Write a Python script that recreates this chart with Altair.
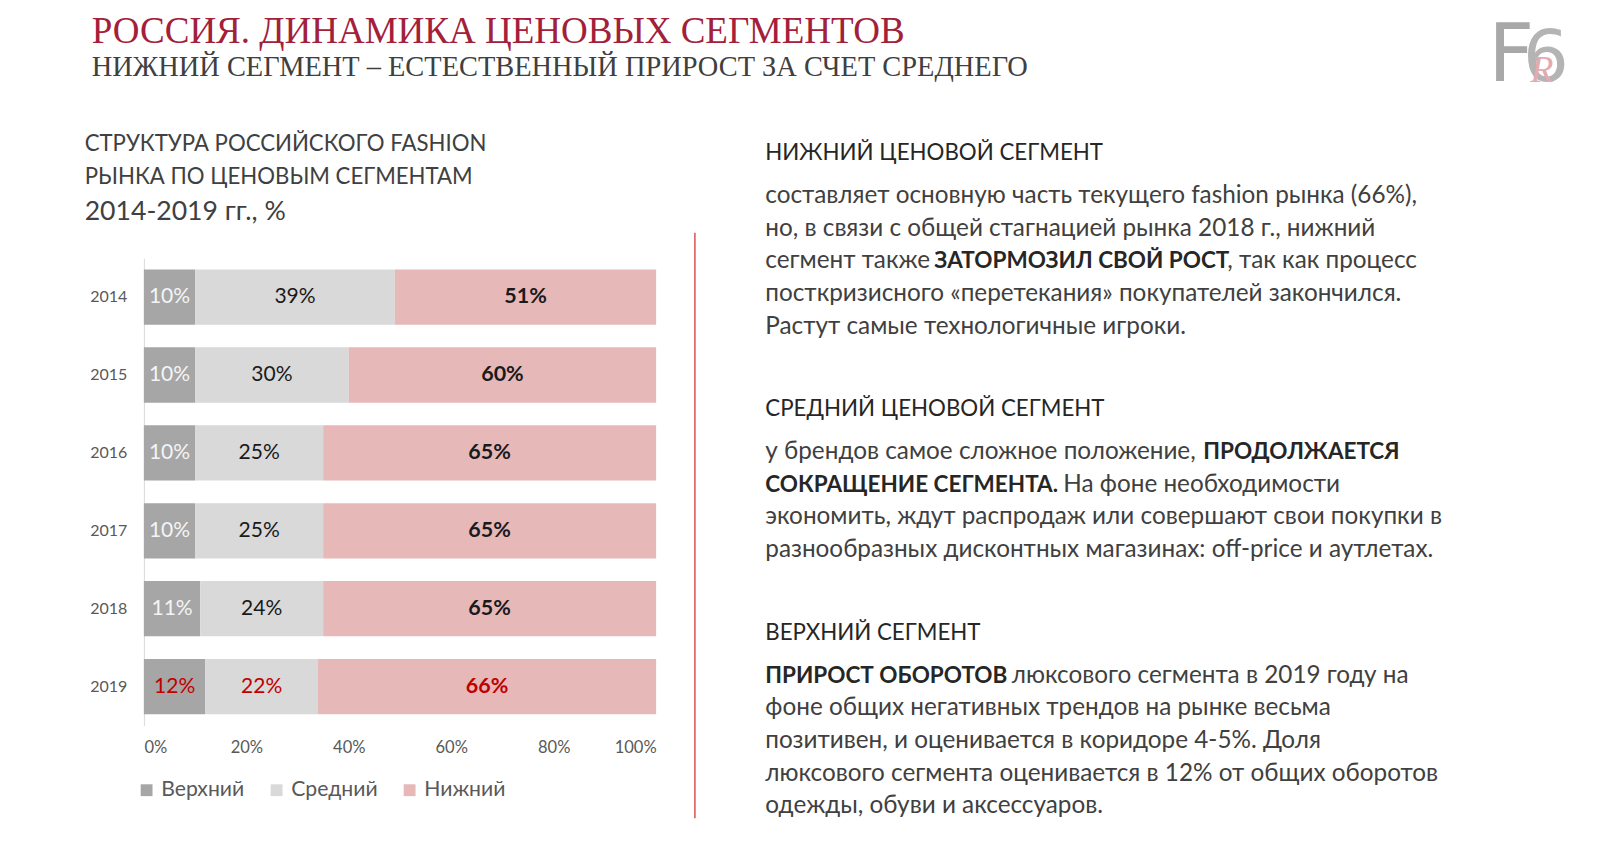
import altair as alt
import pandas as pd

# ---------------- data ----------------
years = ["2014", "2015", "2016", "2017", "2018", "2019"]
segments = ["Верхний", "Средний", "Нижний"]
upper = [10, 10, 10, 10, 11, 12]
middle = [39, 30, 25, 25, 24, 22]
lower = [51, 60, 65, 65, 65, 66]
x_ticks = [0, 20, 40, 60, 80, 100]
seg_colors = ["#a6a6a6", "#d9d9d9", "#e6b8b8"]

main_title = "РОССИЯ. ДИНАМИКА ЦЕНОВЫХ СЕГМЕНТОВ"
main_subtitle = "НИЖНИЙ СЕГМЕНТ – ЕСТЕСТВЕННЫЙ ПРИРОСТ ЗА СЧЕТ СРЕДНЕГО"
chart_title = ["СТРУКТУРА РОССИЙСКОГО FASHION", "РЫНКА ПО ЦЕНОВЫМ СЕГМЕНТАМ"]
chart_subtitle = "2014-2019 гг., %"

# blocks: heading, lines; each line is a list of (text, bold)
blocks = [
    ("НИЖНИЙ ЦЕНОВОЙ СЕГМЕНТ", [
        [("составляет основную часть текущего fashion рынка (66%),", False)],
        [("но, в связи с общей стагнацией рынка 2018 г., нижний", False)],
        [("сегмент также", False), ("ЗАТОРМОЗИЛ СВОЙ РОСТ", True), (", так как процесс", False)],
        [("посткризисного «перетекания» покупателей закончился.", False)],
        [("Растут самые технологичные игроки.", False)],
    ]),
    ("СРЕДНИЙ ЦЕНОВОЙ СЕГМЕНТ", [
        [("у брендов самое сложное положение,", False), ("ПРОДОЛЖАЕТСЯ", True)],
        [("СОКРАЩЕНИЕ СЕГМЕНТА.", True), ("На фоне необходимости", False)],
        [("экономить, ждут распродаж или совершают свои покупки в", False)],
        [("разнообразных дисконтных магазинах: off-price и аутлетах.", False)],
    ]),
    ("ВЕРХНИЙ СЕГМЕНТ", [
        [("ПРИРОСТ ОБОРОТОВ", True), ("люксового сегмента в 2019 году на", False)],
        [("фоне общих негативных трендов на рынке весьма", False)],
        [("позитивен, и оценивается в коридоре 4-5%. Доля", False)],
        [("люксового сегмента оценивается в 12% от общих оборотов", False)],
        [("одежды, обуви и аксессуаров.", False)],
    ]),
]

rows = []
for i, y in enumerate(years):
    for k, (seg, vals) in enumerate(zip(segments, [upper, middle, lower])):
        rows.append({"year": y, "segment": seg, "ord": k, "value": vals[i]})
df = pd.DataFrame(rows)

# ---------------- layout (page pixels) ----------------
OX, OY = 8, 8
W, H = 1584, 840
S = 1600 / 1568.0


def P(v):
    return v * S


SANS = "Lato"
SERIF = "Liberation Serif"

xs = alt.Scale(domain=[0, 100], range=[P(141) - OX, P(643) - OX])
ys = alt.Scale(domain=years, range=[P(253) - OY, P(711) - OY], paddingInner=0.29, paddingOuter=0.145)

xaxis = alt.Axis(title=None, values=x_ticks, labelExpr="datum.value + '%'", offset=-(H + OY - P(711)),
                 domain=False, ticks=False, grid=False, labelFontSize=16.5, labelColor="#595959",
                 labelFont=SANS, labelPadding=14)
yaxis = alt.Axis(title=None, offset=-(P(141) - OX), ticks=False, grid=False, domainColor="#d9d9d9",
                 labelFontSize=16, labelColor="#595959", labelFont=SANS, labelPadding=17)

base = alt.Chart(df).transform_stack(
    stack="value", as_=["v0", "v1"], groupby=["year"], sort=[alt.SortField("ord")]
).transform_calculate(
    mid="(datum.v0 + datum.v1) / 2",
    lab="datum.value + '%'",
    lc="datum.year == '2019' ? '#c00000' : (datum.segment == 'Верхний' ? '#f4f4f4' : '#1a1a1a')",
)

bars = base.mark_bar().encode(
    x=alt.X("v0:Q", scale=xs, axis=xaxis),
    x2="v1:Q",
    y=alt.Y("year:N", scale=ys, axis=yaxis),
    color=alt.Color("segment:N", scale=alt.Scale(domain=segments, range=seg_colors),
                    legend=alt.Legend(orient="none", legendX=128, legendY=771.5,
                                      direction="horizontal", title=None, symbolType="square",
                                      symbolSize=140, symbolStrokeWidth=0, labelFontSize=21.2,
                                      labelColor="#595959", labelFont=SANS, columnPadding=21,
                                      labelOffset=4)),
)

lab_norm = base.transform_filter("datum.segment != 'Нижний'").mark_text(
    font=SANS, fontSize=21, baseline="middle").encode(
    x=alt.X("mid:Q", scale=xs, axis=xaxis),
    y=alt.Y("year:N", scale=ys, axis=yaxis),
    text="lab:N",
    color=alt.Color("lc:N", scale=None),
)
lab_bold = base.transform_filter("datum.segment == 'Нижний'").mark_text(
    font=SANS, fontSize=21.5, fontWeight="bold", baseline="middle").encode(
    x=alt.X("mid:Q", scale=xs, axis=xaxis),
    y=alt.Y("year:N", scale=ys, axis=yaxis),
    text="lab:N",
    color=alt.Color("lc:N", scale=None),
)


def txt(s, x, y, size, color, font=SANS, weight="normal", align="left", baseline="alphabetic",
        italic=False):
    """x, y in page pixels."""
    return alt.Chart(alt.Data(values=[{}])).mark_text(
        fontSize=size, color=color, font=font, fontWeight=weight, align=align, baseline=baseline,
        fontStyle="italic" if italic else "normal",
    ).encode(x=alt.value(x - OX), y=alt.value(y - OY), text=alt.value(s))


texts = []
texts.append(txt(main_title, P(90), P(42), 37, "#a3203a", font=SERIF))
texts.append(txt(main_subtitle, P(90), P(74), 28.4, "#404040", font=SERIF))
texts.append(txt(chart_title[0], P(83), P(148), 22.2, "#404040"))
texts.append(txt(chart_title[1], P(83), P(180), 22.2, "#404040"))
texts.append(txt(chart_subtitle, P(83), P(216), 26.6, "#404040"))

# right-hand text: widths (px) of the leading parts of mixed-weight lines
BODY, BOLD, HEAD = 24.3, 22.5, 22.3
SPACE = 6
seg_w = {
    "сегмент также": 163, "ЗАТОРМОЗИЛ СВОЙ РОСТ": 293,
    "у брендов самое сложное положение,": 432,
    "СОКРАЩЕНИЕ СЕГМЕНТА.": 292, "ПРИРОСТ ОБОРОТОВ": 240.5,
}
x0 = P(750)
y = 157
for head, lines in blocks:
    texts.append(txt(head, x0, P(y), HEAD, "#262626"))
    y += 42
    for line in lines:
        x = x0
        for j, (s, bold) in enumerate(line):
            texts.append(txt(s, x, P(y), BOLD if bold else BODY, "#262626" if bold else "#404040",
                             weight="bold" if bold else "normal"))
            if s in seg_w:
                nxt = line[j + 1][0]
                x += seg_w[s] + (0 if nxt.startswith(",") else SPACE)
        y += 32
    y += 49

divider = alt.Chart(alt.Data(values=[{}])).mark_rule(color="#d9534f", strokeWidth=1.5).encode(
    x=alt.value(P(681) - OX), y=alt.value(P(228) - OY), y2=alt.value(P(802) - OY))

LOGO = "DejaVu Sans ExtraLight, DejaVu Sans"
texts.append(txt("F", P(1481), P(79), 80, "#a8a8a8", font=LOGO, align="center"))
texts.append(txt("6", P(1515), P(79), 72, "#b4b4b4", font=LOGO, align="center"))
texts.append(txt("R", P(1511), P(80), 38, "#e3aab0", font=SERIF, align="center", italic=True))

chart = alt.layer(bars, lab_norm, lab_bold, divider, *texts).properties(
    width=W, height=H, padding=0,
    autosize=alt.AutoSizeParams(type="fit", contains="padding"),
    background="white",
).configure_view(stroke=None)

chart.save("out.html", embed_options={"renderer": "svg", "actions": False})
